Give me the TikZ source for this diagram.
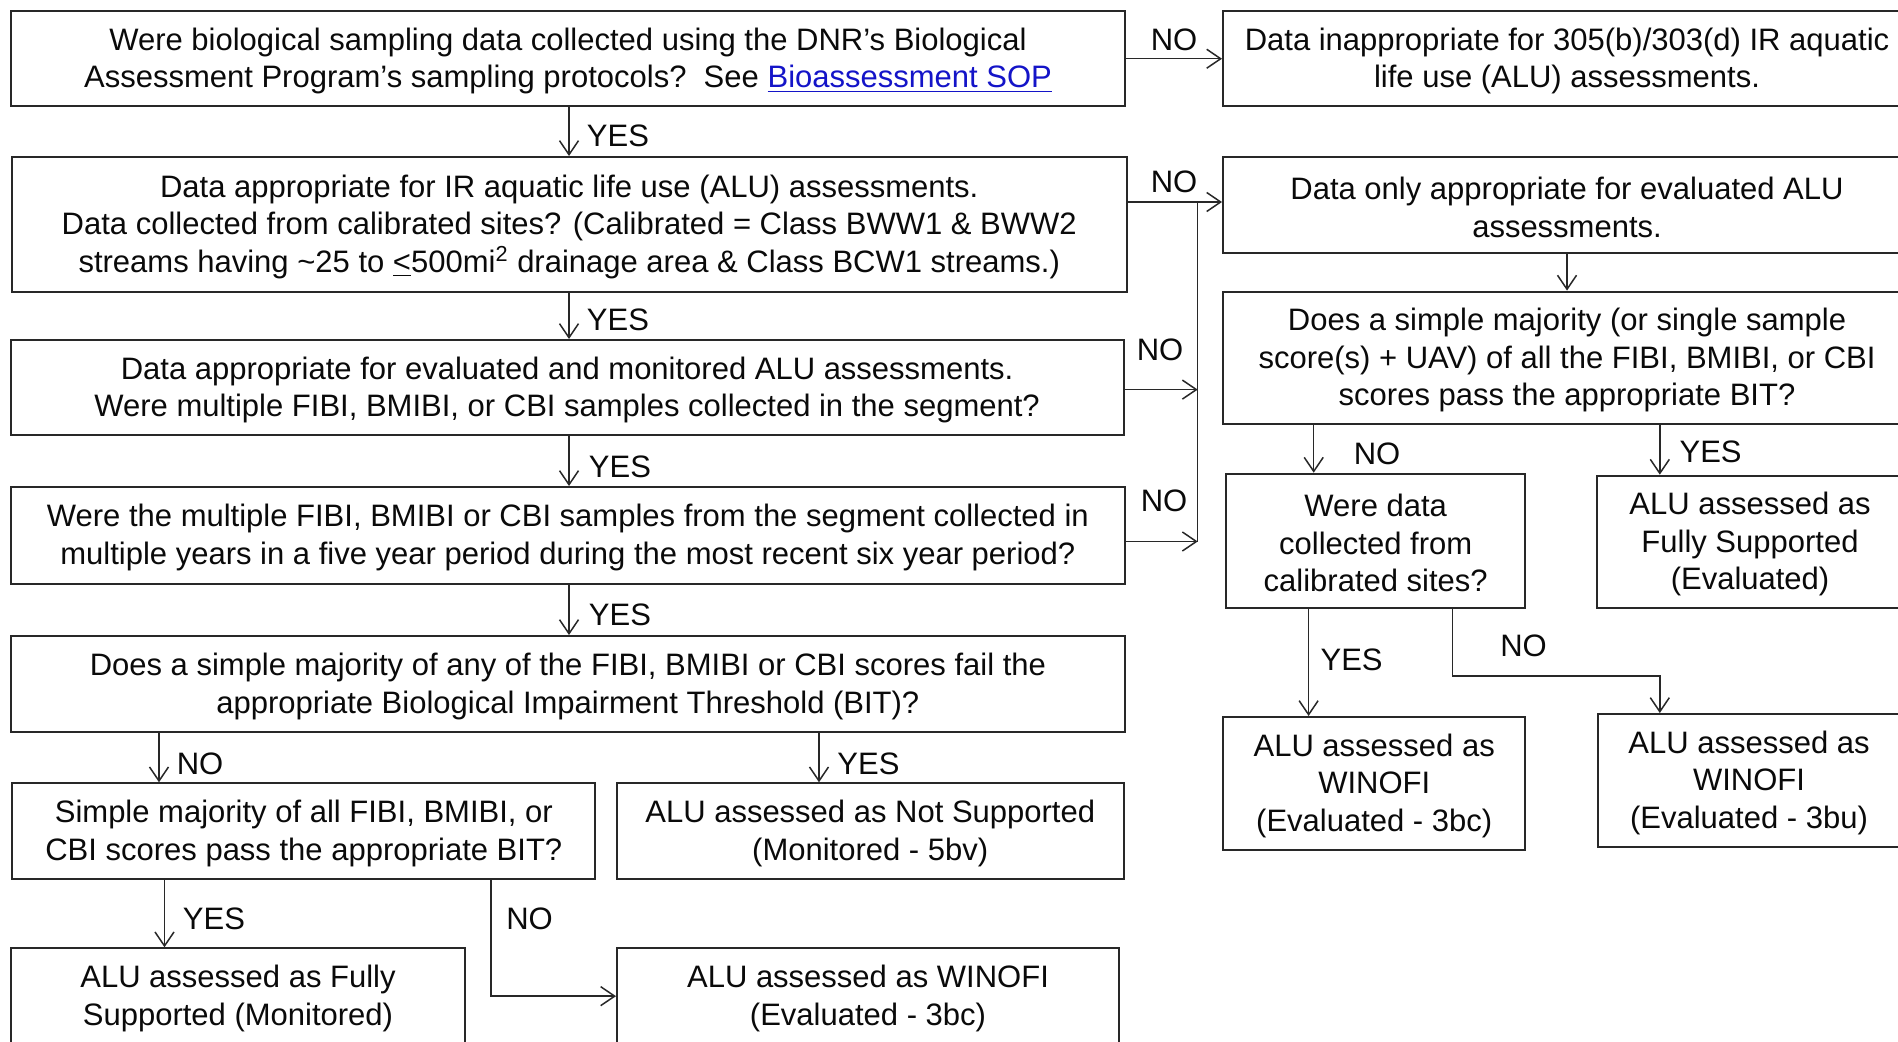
\documentclass[tikz,border=0pt]{standalone}
\usepackage{fontspec}
\setmainfont{Liberation Sans}
\usetikzlibrary{arrows.meta}
\definecolor{ink}{RGB}{10,10,10}
\definecolor{edge}{RGB}{40,40,40}
\definecolor{linkblue}{RGB}{20,20,200}
\begin{document}
\begin{tikzpicture}[x=0.5pt,y=-0.5pt,
  box/.style={draw=edge, line width=1pt, inner sep=0pt},
  txt/.style={inner sep=0pt, align=center, yshift=-1.2pt,
    font=\fontsize{15.5}{18.75}\selectfont, text=ink},
  lbl/.style={inner sep=0pt, font=\fontsize{15.5}{18.75}\selectfont, text=ink},
  arr/.style={draw=edge, line width=0.75pt, -{Straight Barb[length=7pt,width=9.5pt]}},
  ln/.style={draw=edge, line width=0.75pt}]
\fill[white] (0,0) rectangle (1898,1042);
\useasboundingbox (0,0) rectangle (1898,1042);
\clip (0,0) rectangle (1898,1042);

% left column boxes
\node[box,minimum width=557.2pt,minimum height=47.25pt] (b1) at (568,58.75) {};
\node[box,minimum width=557.25pt,minimum height=67.3pt] (b2) at (569.25,224.3) {};
\node[box,minimum width=556.4pt,minimum height=47.75pt] (b3) at (567.1,387.75) {};
\node[box,minimum width=557.15pt,minimum height=48.3pt] (b4) at (567.85,535.3) {};
\node[box,minimum width=557.15pt,minimum height=48.15pt] (b5) at (567.85,684.15) {};
\node[box,minimum width=291.6pt,minimum height=48pt] (b6) at (303.8,831.3) {};
\node[box,minimum width=253.25pt,minimum height=48pt] (b7) at (870.25,831.3) {};
\node[box,minimum width=227.3pt,minimum height=47.85pt] (b8) at (238,996.15) {};
\node[box,minimum width=251pt,minimum height=47.85pt] (b9) at (868,996.15) {};

% right column boxes
\node[box,minimum width=344pt,minimum height=47.25pt] (r1) at (1567,58.75) {};
\node[box,minimum width=344pt,minimum height=47.85pt] (r2) at (1567,205.15) {};
\node[box,minimum width=344pt,minimum height=66.2pt] (r3) at (1567,357.8) {};
\node[box,minimum width=149.7pt,minimum height=67.3pt] (r4) at (1375.7,541) {};
\node[box,minimum width=153pt,minimum height=66.3pt] (r5) at (1750,542) {};
\node[box,minimum width=151.2pt,minimum height=66.5pt] (r6) at (1374.2,783.5) {};
\node[box,minimum width=151pt,minimum height=66.35pt] (r7) at (1749,780.35) {};

% box texts
\node[txt] (t1) at (b1.center)
  {Were biological sampling data collected using the DNR’s Biological\\Assessment Program’s sampling protocols?\ \ See \textcolor{linkblue}{\underline{Bioassessment SOP}}};
\node[txt] (t2) at (b2.center)
  {Data appropriate for IR aquatic life use (ALU) assessments.\\Data collected from calibrated sites? (Calibrated = Class BWW1 \& BWW2\\streams having \textasciitilde25 to \underline{<}500mi\textsuperscript{2} drainage area \& Class BCW1 streams.)};
\node[txt] (t3) at (b3.center)
  {Data appropriate for evaluated and monitored ALU assessments.\\Were multiple FIBI, BMIBI, or CBI samples collected in the segment?};
\node[txt] (t4) at (b4.center)
  {Were the multiple FIBI, BMIBI or CBI samples from the segment collected in\\multiple years in a five year period during the most recent six year period?};
\node[txt] (t5) at (b5.center)
  {Does a simple majority of any of the FIBI, BMIBI or CBI scores fail the\\appropriate Biological Impairment Threshold (BIT)?};
\node[txt] (t6) at (b6.center)
  {Simple majority of all FIBI, BMIBI, or\\CBI scores pass the appropriate BIT?};
\node[txt] (t7) at (b7.center)
  {ALU assessed as Not Supported\\(Monitored - 5bv)};
\node[txt] (t8) at (b8.center)
  {ALU assessed as Fully\\Supported (Monitored)};
\node[txt] (t9) at (b9.center)
  {ALU assessed as WINOFI\\(Evaluated - 3bc)};
\node[txt] (tr1) at (r1.center)
  {Data inappropriate for 305(b)/303(d) IR aquatic\\life use (ALU) assessments.};
\node[txt] (tr2) at (r2.center)
  {Data only appropriate for evaluated ALU\\assessments.};
\node[txt] (tr3) at (r3.center)
  {Does a simple majority (or single sample\\score(s) + UAV) of all the FIBI, BMIBI, or CBI\\scores pass the appropriate BIT?};
\node[txt] (tr4) at (r4.center)
  {Were data\\collected from\\calibrated sites?};
\node[txt] (tr5) at (r5.center)
  {ALU assessed as\\Fully Supported\\(Evaluated)};
\node[txt] (tr6) at (r6.center)
  {ALU assessed as\\WINOFI\\(Evaluated - 3bc)};
\node[txt] (tr7) at (r7.center)
  {ALU assessed as\\WINOFI\\(Evaluated - 3bu)};

% helper coordinates
\coordinate (vx) at (569,0);
\coordinate (x6) at (159,0);
\coordinate (x7) at (819,0);
\coordinate (x8) at (164.5,0);
\coordinate (x9) at (491,0);
\coordinate (bx) at (1197.7,0);
\coordinate (y2) at (0,202);
\coordinate (y3) at (0,389.6);
\coordinate (y4) at (0,541.5);
\coordinate (xr4) at (1313.7,0);
\coordinate (xr5) at (1659.8,0);
\coordinate (xr6) at (1308.6,0);
\coordinate (xr7) at (1452.7,0);
\coordinate (yr7) at (0,676);

% left connectors
\draw[arr] (b1.south -| vx) -- (b2.north -| vx);
\draw[arr] (b2.south -| vx) -- (b3.north -| vx);
\draw[arr] (b3.south -| vx) -- (b4.north -| vx);
\draw[arr] (b4.south -| vx) -- (b5.north -| vx);
\draw[arr] (b5.south -| x6) -- (b6.north -| x6);
\draw[arr] (b5.south -| x7) -- (b7.north -| x7);
\draw[arr] (b6.south -| x8) -- (b8.north -| x8);
\draw[arr] (b6.south -| x9) |- (b9.west);

% to the right column
\draw[arr] (b1.east) -- (b1.east -| r1.west);
\draw[arr] (b2.east |- y2) -- (r2.west |- y2);
\draw[ln] (bx |- y2) -- (bx |- y4);
\draw[arr] (b3.east |- y3) -- (bx |- y3);
\draw[arr] (b4.east |- y4) -- (bx |- y4);

% right connectors
\draw[arr] (r2.south) -- (r3.north);
\draw[arr] (r3.south -| xr4) -- (r4.north -| xr4);
\draw[arr] (r3.south -| xr5) -- (r5.north -| xr5);
\draw[arr] (r4.south -| xr6) -- (r6.north -| xr6);
\draw[arr] (r4.south -| xr7) -- (xr7 |- yr7) -- (xr5 |- yr7) -- (r7.north -| xr5);

% labels
\node[lbl] (l1) at (618,136) {YES};
\node[lbl] (l2) at (618,319.5) {YES};
\node[lbl] (l3) at (620,467) {YES};
\node[lbl] (l4) at (620,615) {YES};
\node[lbl] (l5) at (200,764) {NO};
\node[lbl] (l6) at (868.5,764) {YES};
\node[lbl] (l7) at (214,919) {YES};
\node[lbl] (l8) at (529.5,919) {NO};
\node[lbl] (l9) at (1174,40.2) {NO};
\node[lbl] (l10) at (1174,181.8) {NO};
\node[lbl] (l11) at (1160,350) {NO};
\node[lbl] (l12) at (1164,501) {NO};
\node[lbl] (l13) at (1377,453.5) {NO};
\node[lbl] (l14) at (1710.6,452) {YES};
\node[lbl] (l15) at (1351.6,660) {YES};
\node[lbl] (l16) at (1523.5,646) {NO};
\end{tikzpicture}
\end{document}
